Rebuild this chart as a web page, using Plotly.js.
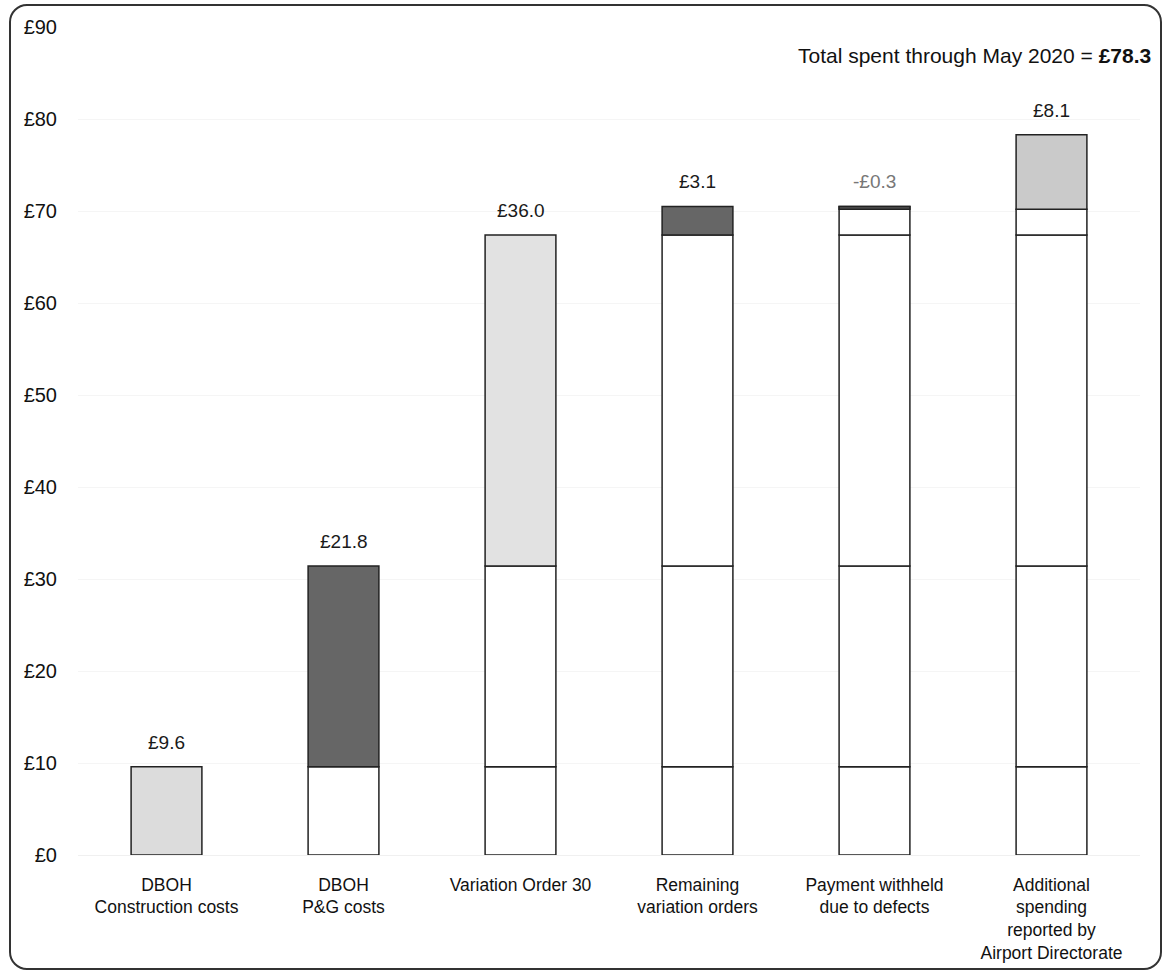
<!DOCTYPE html>
<html>
<head>
<meta charset="utf-8">
<script src="https://cdn.plot.ly/plotly-3.0.1.min.js"></script>
<style>
  html, body { margin: 0; padding: 0; background: #fff; }
  #wrap { position: relative; width: 1168px; height: 975px; }
  #frame { position: absolute; left: 9px; top: 4px; width: 1149px; height: 962px;
           border: 2px solid #333; border-radius: 18px; pointer-events: none; }
  #chart { position: absolute; left: 0; top: 0; width: 1168px; height: 975px; }
</style>
</head>
<body>
<div id="wrap">
  <div id="chart"></div>
  <div id="frame"></div>
</div>
<script>
// ---- data ----
const categories = [
  "DBOH<br>Construction costs",
  "DBOH<br>P&G costs",
  "Variation Order 30",
  "Remaining<br>variation orders",
  "Payment withheld<br>due to defects",
  "Additional<br>spending<br>reported by<br>Airport Directorate"
];
const values = [9.6, 21.8, 36.0, 3.1, -0.3, 8.1];
const totalLabel = "78.3";
const yTickVals = [0, 10, 20, 30, 40, 50, 60, 70, 80, 90];

// ---- styles ----
const segColors = ["#dcdcdc", "#666666", "#e2e2e2", "#666666", "#555555", "#cacaca"];
const labelColors = ["#1a1a1a", "#1a1a1a", "#1a1a1a", "#1a1a1a", "#777777", "#1a1a1a"];
const FONT = "Liberation Sans, Arial, sans-serif";

// cumulative totals
const cum = [];
values.reduce((s, v, i) => { cum[i] = +(s + v).toFixed(2); return cum[i]; }, 0);

const traces = [];
// white "already spent" segments for each bar
for (let j = 0; j < values.length - 1; j++) {
  const xs = [], bases = [], ys = [];
  for (let i = j + 1; i < values.length; i++) {
    const lvl = k => (k < 0 ? 0 : Math.min(...cum.slice(k, i)));
    const lo = lvl(j - 1), hi = lvl(j);
    if (hi - lo > 0.001) { xs.push(categories[i]); bases.push(lo); ys.push(+(hi - lo).toFixed(2)); }
  }
  traces.push({
    type: "bar", x: xs, y: ys, base: bases, width: 0.4,
    marker: { color: "#ffffff", line: { color: "#222", width: 1.5 } },
    hoverinfo: "skip", showlegend: false
  });
}
// highlighted step segments
const prev = cum.map((c, i) => (i === 0 ? 0 : cum[i - 1]));
traces.push({
  type: "bar", x: categories,
  base: values.map((v, i) => Math.min(prev[i], cum[i])),
  y: values.map(v => Math.abs(v)),
  width: 0.4,
  marker: { color: segColors, line: { color: "#222", width: 1.5 } },
  showlegend: false
});

const fmt = v => (v < 0 ? "-£" : "£") + Math.abs(v).toFixed(1);
const annotations = values.map((v, i) => ({
  x: categories[i], y: Math.max(prev[i], cum[i]), yref: "y", xref: "x",
  text: fmt(v), showarrow: false, yanchor: "bottom", yshift: 12,
  font: { size: 19, color: labelColors[i], family: FONT }
}));
annotations.push({
  xref: "paper", yref: "paper", x: 1.012, y: 0.966, xanchor: "right", yanchor: "middle",
  text: "Total spent through May 2020 = <b>£" + totalLabel + "</b>", showarrow: false,
  font: { size: 21, color: "#111", family: FONT }
});

const layout = {
  width: 1168, height: 975,
  margin: { l: 78, r: 28, t: 27, b: 120 },
  paper_bgcolor: "rgba(0,0,0,0)", plot_bgcolor: "#fff",
  barmode: "overlay", bargap: 0.6,
  font: { family: FONT, size: 17.5, color: "#111" },
  xaxis: {
    type: "category", categoryorder: "array", categoryarray: categories,
    showgrid: false, showline: false, ticks: "", zeroline: false,
    ticklabelstandoff: 17,
    tickfont: { size: 17.5, color: "#111" }, fixedrange: true
  },
  yaxis: {
    range: [0, 90], tickvals: yTickVals, ticktext: yTickVals.map(v => "£" + v),
    showgrid: true, gridcolor: "#f5f5f5", gridwidth: 1, zeroline: true, zerolinecolor: "#f0f0f0",
    showline: false, ticks: "", ticklabelstandoff: 20,
    tickfont: { size: 20, color: "#111" }, fixedrange: true
  },
  annotations: annotations
};

Plotly.newPlot("chart", traces, layout, { displayModeBar: false, staticPlot: true });
</script>
</body>
</html>
